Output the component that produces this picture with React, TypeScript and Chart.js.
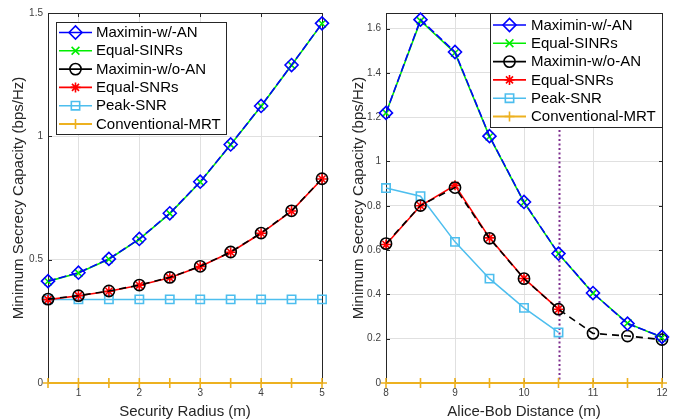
import React, { useEffect, useRef } from 'react';
import { Chart, registerables } from 'chart.js';
import { drawPoint } from 'chart.js/helpers';

Chart.register(...registerables);

// ---------------- Data ----------------
const radius = [0.5, 1, 1.5, 2, 2.5, 3, 3.5, 4, 4.5, 5];
const radMaximinAN = [0.413, 0.447, 0.503, 0.584, 0.688, 0.816, 0.967, 1.123, 1.289, 1.458];
const radEqualSINR = [0.412, 0.446, 0.502, 0.583, 0.687, 0.815, 0.966, 1.122, 1.288, 1.457];
const radMaximinNoAN = [0.340, 0.354, 0.373, 0.397, 0.428, 0.473, 0.531, 0.608, 0.698, 0.828];
const radEqualSNR = [0.338, 0.354, 0.372, 0.396, 0.427, 0.472, 0.530, 0.607, 0.697, 0.827];
const radPeakSNR = [0.339, 0.339, 0.339, 0.339, 0.339, 0.339, 0.339, 0.339, 0.339, 0.339];
const radMRT = [0, 0, 0, 0, 0, 0, 0, 0, 0, 0];
const radXTicks = [1, 2, 3, 4, 5];
const radYTicks = [0, 0.5, 1, 1.5];

const distance = [8, 8.5, 9, 9.5, 10, 10.5, 11, 11.5, 12];
const distMaximinAN = [1.219, 1.640, 1.494, 1.114, 0.817, 0.584, 0.406, 0.268, 0.208];
const distEqualSINR = [1.219, 1.635, 1.490, 1.112, 0.815, 0.583, 0.405, 0.270, 0.205];
const distMaximinNoAN = [0.629, 0.801, 0.882, 0.653, 0.471, 0.333, 0.224, 0.212, 0.196];
const distEqualSNR = [0.625, 0.800, 0.892, 0.655, 0.472, 0.333, null, null, null];
const distPeakSNR = [0.880, 0.843, 0.637, 0.471, 0.339, 0.228, null, null, null];
const distMRT = [0, 0, 0, 0, 0, 0, 0, 0, 0];
const distXTicks = [8, 9, 10, 11, 12];
const distYTicks = [0, 0.2, 0.4, 0.6, 0.8, 1, 1.2, 1.4, 1.6];
const distMarkerX = 10.5;

const seriesLabels = ['Maximin-w/-AN', 'Equal-SINRs', 'Maximin-w/o-AN', 'Equal-SNRs', 'Peak-SNR', 'Conventional-MRT'];

// ---------------- Styles ----------------
const FONT = '"Liberation Sans", Arial, Helvetica, sans-serif';
const seriesStyles = [
  { color: '#0000ff', pointStyle: 'rectRot', r: 6.5, dash: [8, 3], width: 1.6 },
  { color: '#00ee00', pointStyle: 'crossRot', r: 5.5, dash: [], width: 1.6 },
  { color: '#000000', pointStyle: 'circle', r: 5.6, dash: [7, 5], width: 1.6 },
  { color: '#ff0000', pointStyle: 'star', r: 5, dash: [], width: 1.6 },
  { color: '#4DBEEE', pointStyle: 'rect', r: 5.9, dash: [], width: 1.5 },
  { color: '#EDB120', pointStyle: 'cross', r: 5, dash: [], width: 2.2 },
];

type LegendBox = { x: number; y: number; w: number; h: number; row0: number; rowH: number; lx0: number; lx1: number; tx: number };

type PanelCfg = {
  width: number;
  xs: number[];
  ys: (number | null)[][];
  xMin: number; xMax: number; yMin: number; yMax: number;
  xTicks: number[]; yTicks: number[];
  xTitle: string; yTitle: string;
  yAxisWidth: number; padRight: number; yTitlePad: number;
  legend: LegendBox;
  markerX?: number;
};

function drawLegend(chart: any, L: LegendBox) {
  const ctx: CanvasRenderingContext2D = chart.ctx;
  ctx.save();
  ctx.setLineDash([]);
  ctx.fillStyle = '#ffffff';
  ctx.fillRect(L.x, L.y, L.w, L.h);
  ctx.strokeStyle = '#262626';
  ctx.lineWidth = 1;
  ctx.strokeRect(L.x + 0.5, L.y + 0.5, L.w, L.h);
  chart.data.datasets.forEach((ds: any, i: number) => {
    const y = L.row0 + i * L.rowH;
    ctx.setLineDash([]);
    ctx.strokeStyle = ds.borderColor;
    ctx.lineWidth = ds.borderWidth;
    ctx.beginPath();
    ctx.moveTo(L.lx0, y);
    ctx.lineTo(L.lx1, y);
    ctx.stroke();
    ctx.fillStyle = 'rgba(0,0,0,0)';
    ctx.strokeStyle = ds.pointBorderColor;
    ctx.lineWidth = ds.pointBorderWidth;
    drawPoint(ctx, { pointStyle: ds.pointStyle, radius: ds.pointRadius, rotation: 0, borderWidth: ds.pointBorderWidth } as any, (L.lx0 + L.lx1) / 2, y);
    ctx.fillStyle = '#000000';
    ctx.font = `15px ${FONT}`;
    ctx.textBaseline = 'middle';
    ctx.textAlign = 'left';
    ctx.fillText(ds.label, L.tx, y + 0.5);
  });
  ctx.restore();
}

function Panel({ cfg }: { cfg: PanelCfg }) {
  const ref = useRef<HTMLCanvasElement>(null);
  useEffect(() => {
    if (!ref.current) return;
    const frame = {
      id: 'frame',
      beforeDatasetsDraw(chart: any) {
        const { ctx, chartArea: a, scales } = chart;
        ctx.save();
        if (cfg.markerX !== undefined) {
          const px = Math.round(scales.x.getPixelForValue(cfg.markerX)) + 0.5;
          ctx.strokeStyle = '#7E2F8E';
          ctx.lineWidth = 2;
          ctx.setLineDash([2, 2.5]);
          ctx.beginPath();
          ctx.moveTo(px, a.top);
          ctx.lineTo(px, a.bottom);
          ctx.stroke();
        }
        ctx.setLineDash([]);
        ctx.strokeStyle = '#262626';
        ctx.lineWidth = 1;
        const l = Math.round(a.left) + 0.5, r = Math.round(a.right) + 0.5;
        const t = Math.round(a.top) + 0.5, b = Math.round(a.bottom) + 0.5;
        ctx.strokeRect(l, t, r - l, b - t);
        const tl = 3.5;
        ctx.beginPath();
        cfg.xTicks.forEach((v) => {
          const px = Math.round(scales.x.getPixelForValue(v)) + 0.5;
          ctx.moveTo(px, b); ctx.lineTo(px, b - tl);
          ctx.moveTo(px, t); ctx.lineTo(px, t + tl);
        });
        cfg.yTicks.forEach((v) => {
          const py = Math.round(scales.y.getPixelForValue(v)) + 0.5;
          ctx.moveTo(l, py); ctx.lineTo(l + tl, py);
          ctx.moveTo(r, py); ctx.lineTo(r - tl, py);
        });
        ctx.stroke();
        ctx.restore();
      },
      afterDraw(chart: any) {
        drawLegend(chart, cfg.legend);
      },
    };
    const datasets = cfg.ys.map((ys, i) => {
      const s = seriesStyles[i];
      return {
        label: seriesLabels[i],
        data: cfg.xs.map((x, j) => ({ x, y: ys[j] })),
        borderColor: s.color,
        backgroundColor: 'rgba(0,0,0,0)',
        borderWidth: s.width,
        borderDash: s.dash,
        pointStyle: s.pointStyle,
        pointRadius: s.r,
        pointBorderWidth: 1.6,
        pointBorderColor: s.color,
        pointBackgroundColor: 'rgba(0,0,0,0)',
        pointHoverRadius: s.r,
        tension: 0,
        spanGaps: false,
        clip: false,
      };
    });
    const chart = new Chart(ref.current, {
      type: 'line',
      data: { datasets } as any,
      plugins: [frame],
      options: {
        animation: false,
        responsive: false,
        maintainAspectRatio: false,
        layout: { padding: { top: 13, right: cfg.padRight, left: 0, bottom: 0 } },
        plugins: { legend: { display: false }, tooltip: { enabled: false } },
        scales: {
          x: {
            type: 'linear',
            min: cfg.xMin,
            max: cfg.xMax,
            afterBuildTicks: (s: any) => { s.ticks = cfg.xTicks.map((v) => ({ value: v })); },
            afterFit: (s: any) => { s.height = 36; },
            grid: { color: '#e0e0e0', drawTicks: false, lineWidth: 1 },
            border: { display: false },
            ticks: {
              padding: 4,
              color: '#404040',
              font: { family: FONT, size: 10 },
              maxRotation: 0,
              autoSkip: false,
              callback: (v: any) => String(v),
            },
            title: {
              display: true,
              text: cfg.xTitle,
              color: '#262626',
              font: { family: FONT, size: 15, lineHeight: 1 },
              padding: { top: 0, bottom: 0 },
            },
          },
          y: {
            type: 'linear',
            min: cfg.yMin,
            max: cfg.yMax,
            afterBuildTicks: (s: any) => { s.ticks = cfg.yTicks.map((v) => ({ value: v })); },
            afterFit: (s: any) => { s.width = cfg.yAxisWidth; },
            grid: { color: '#e0e0e0', drawTicks: false, lineWidth: 1 },
            border: { display: false },
            ticks: {
              padding: 5,
              color: '#404040',
              font: { family: FONT, size: 10 },
              autoSkip: false,
              callback: (v: any) => String(v),
            },
            title: {
              display: true,
              text: cfg.yTitle,
              color: '#262626',
              font: { family: FONT, size: 15, lineHeight: 1 },
              padding: { top: cfg.yTitlePad, bottom: 0 },
            },
          },
        },
      } as any,
    });
    return () => chart.destroy();
  }, [cfg]);
  return <canvas ref={ref} width={cfg.width} height={419} style={{ display: 'block', width: cfg.width, height: 419 }} />;
}

const leftCfg: PanelCfg = {
  width: 336,
  xs: radius,
  ys: [radMaximinAN, radEqualSINR, radMaximinNoAN, radEqualSNR, radPeakSNR, radMRT],
  xMin: 0.5, xMax: 5, yMin: 0, yMax: 1.5,
  xTicks: radXTicks, yTicks: radYTicks,
  xTitle: 'Security Radius (m)',
  yTitle: 'Minimum Secrecy Capacity (bps/Hz)',
  yAxisWidth: 48, padRight: 14, yTitlePad: 11,
  legend: { x: 56, y: 22, w: 170, h: 112, row0: 32.5, rowH: 18.3, lx0: 59, lx1: 92, tx: 96 },
};

const rightCfg: PanelCfg = {
  width: 337,
  xs: distance,
  ys: [distMaximinAN, distEqualSINR, distMaximinNoAN, distEqualSNR, distPeakSNR, distMRT],
  xMin: 8, xMax: 12, yMin: 0, yMax: 1.67,
  xTicks: distXTicks, yTicks: distYTicks,
  xTitle: 'Alice-Bob Distance (m)',
  yTitle: 'Minimum Secrecy Capacity (bps/Hz)',
  yAxisWidth: 50, padRight: 11, yTitlePad: 15,
  legend: { x: 154, y: 13, w: 172, h: 114, row0: 25, rowH: 18.3, lx0: 157, lx1: 190, tx: 195 },
  markerX: distMarkerX,
};

export default function App() {
  return (
    <div style={{ position: 'fixed', left: 0, top: 0, width: 673, height: 419, display: 'flex', background: '#ffffff' }}>
      <Panel cfg={leftCfg} />
      <Panel cfg={rightCfg} />
    </div>
  );
}
